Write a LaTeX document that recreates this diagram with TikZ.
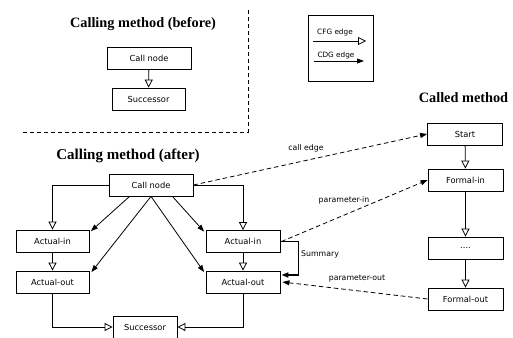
\documentclass[tikz,border=0pt]{standalone}
\usepackage{fontspec}
\setmainfont{DejaVu Sans}
\newfontfamily\headfont{Liberation Serif}
\usetikzlibrary{arrows.meta}

\tikzset{
  box/.style={draw, line width=0.8pt, minimum height=22pt, inner sep=0pt,
    font=\fontsize{8.3}{10}\selectfont},
  cfg/.style={line width=0.8pt, -{Triangle[open,length=8pt,width=8pt]}},
  cdg/.style={line width=0.8pt, -{Triangle[length=7pt,width=5pt]}},
  link/.style={cdg, dash pattern=on 4.5pt off 3pt},
  summary/.style={line width=1.8pt, -{Triangle[length=7pt,width=5pt]}},
  separator/.style={line width=0.8pt, dash pattern=on 4pt off 3pt},
  edgelabel/.style={font=\fontsize{7.8}{9}\selectfont, inner sep=0pt},
  legendlabel/.style={font=\fontsize{7.3}{9}\selectfont, inner sep=0pt, anchor=base},
  heading/.style={font=\headfont\bfseries\fontsize{14.3}{17}\selectfont, inner sep=0pt, anchor=base},
}

\begin{document}
\begin{tikzpicture}[x=1pt,y=-1pt]
\clip (0,0) rectangle (513,337);
\fill[white] (0,0) rectangle (513,337);

% section separators
\coordinate (sepTop) at (248,10);
\coordinate (sepCorner) at (248,132);
\coordinate (sepLeft) at (21,132);
\draw[separator] (sepTop) -- (sepCorner) -- (sepLeft);

% headings
\node[heading] (hBefore) at (143,28) {Calling method (before)};
\node[heading, font=\headfont\bfseries\fontsize{15}{18}\selectfont] (hAfter) at (128,159) {Calling method (after)};
\node[heading] (hCalled) at (463.5,102) {Called method};

% legend
\node[draw, line width=0.8pt, minimum width=65pt, minimum height=66pt, inner sep=0pt] (legend) at (340.5,48) {};
\node[legendlabel] (lCFG) at (335,35) {CFG edge};
\node[legendlabel] (lCDG) at (336,57) {CDG edge};
\coordinate (cfgA) at (313,41);
\coordinate (cfgB) at (366,41);
\coordinate (cdgA) at (314,61);
\coordinate (cdgB) at (364,61);
\draw[cfg] (cfgA) -- (cfgB);
\draw[cdg] (cdgA) -- (cdgB);

% calling method before the transformation
\node[box, minimum width=84pt] (bCall) at (149,58) {Call node};
\node[box, minimum width=73pt] (bSucc) at (148.5,99) {Successor};
\draw[cfg] (bCall) -- (bSucc);

% calling method after the transformation
\node[box, minimum width=84pt] (call) at (151,185) {Call node};
\node[box, minimum width=73pt] (ainL) at (52.5,241) {Actual-in};
\node[box, minimum width=73pt] (aoutL) at (52.5,282) {Actual-out};
\node[box, minimum width=74pt] (ainR) at (243,241.5) {Actual-in};
\node[box, minimum width=74pt] (aoutR) at (243,282) {Actual-out};
\node[box, minimum width=64pt] (succ) at (145,327) {Successor};

\draw[cfg] (call.west) -| (ainL.north);
\draw[cfg] (call.east) -| (ainR.north);
\draw[cfg] (ainL) -- (aoutL);
\draw[cfg] (ainR) -- (aoutR);
\draw[cfg] (aoutL.south) |- (succ.west);
\draw[cfg] (aoutR.south) |- (succ.east);

\draw[cdg] ([xshift=21pt]call.south west) -- ([xshift=1.5pt,yshift=-1.5pt]ainL.north east);
\draw[cdg] (call.south) -- ([xshift=2pt,yshift=-1.5pt]aoutL.north east);
\draw[cdg] ([xshift=-21pt]call.south east) -- ([xshift=-1.5pt,yshift=-1.5pt]ainR.north west);
\draw[cdg] (call.south) -- ([xshift=-1.5pt,yshift=-1.5pt]aoutR.north west);

\draw[summary] (ainR.east) -- ++(18,0) |- ([xshift=1pt,yshift=7pt]aoutR.east);
\node[edgelabel, anchor=west] (lSummary) at (301,254) {Summary};

% called method
\node[box, minimum width=75pt] (start) at (465,134) {Start};
\node[box, minimum width=75pt] (fin) at (465.5,180) {Formal-in};
\node[box, minimum width=75pt] (dots) at (465.5,248) {....};
\node[box, minimum width=75pt] (fout) at (465.5,299) {Formal-out};
\draw[cfg] (start) -- (fin);
\draw[cfg] (fin) -- (dots);
\draw[cfg] (dots) -- (fout);

% interprocedural edges
\draw[link] (call.east) -- (start.west);
\node[edgelabel] (lCall) at (306,148) {call edge};
\draw[link] ([xshift=1pt]ainR.east) -- (fin.west);
\node[edgelabel] (lParIn) at (344,200) {parameter-in};
\draw[link] (fout.west) -- ([xshift=2pt]aoutR.east);
\node[edgelabel] (lParOut) at (357,279) {parameter-out};
\end{tikzpicture}
\end{document}
